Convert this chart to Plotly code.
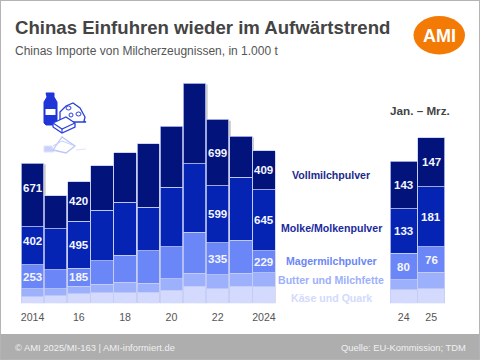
import plotly.graph_objects as go

W, H = 480, 360
years = [2014, 2015, 2016, 2017, 2018, 2019, 2020, 2021, 2022, 2023, 2024]
year_ticks = [2014, 2016, 2018, 2020, 2022, 2024]
year_labels = ["2014", "16", "18", "20", "22", "2024"]
kaese = [70, 77, 98, 112, 112, 116, 140, 182, 151, 182, 175]
butter = [81, 74, 84, 88, 112, 95, 116, 137, 151, 137, 147]
mager = [253, 200, 185, 249, 284, 344, 340, 428, 335, 347, 229]
molke = [402, 435, 495, 533, 554, 456, 628, 723, 599, 663, 645]
voll = [671, 344, 420, 467, 523, 667, 642, 846, 699, 428, 409]

q_cats = [24, 25]
q_labels = ["24", "25"]
q_kaese = [40, 44]
q_butter = [30, 49]
q_mager = [80, 76]
q_molke = [133, 181]
q_voll = [143, 147]

names = ["Käse und Quark", "Butter und Milchfette", "Magermilchpulver", "Molke/Molkenpulver", "Vollmilchpulver"]
colors = ["#d3dafd", "#9db0fb", "#6b86f6", "#0524b4", "#02137c"]
left = [kaese, butter, mager, molke, voll]
right = [q_kaese, q_butter, q_mager, q_molke, q_voll]
shown_left = {2: [2014, 2016, 2022, 2024], 3: [2014, 2016, 2022, 2024], 4: [2014, 2016, 2022, 2024]}

def px(x): return x / W
def py(y): return 1 - y / H

line = dict(color="#c4cdf6", width=0.8)
fig = go.Figure()
for i in range(5):
    fig.add_trace(go.Bar(x=years, y=left[i], name=names[i], marker=dict(color=colors[i], line=line), xaxis="x", yaxis="y", showlegend=False))
    fig.add_trace(go.Bar(x=q_cats, y=right[i], name=names[i], marker=dict(color=colors[i], line=line), xaxis="x2", yaxis="y2", showlegend=False))

ann = []
vfont = dict(family="Liberation Sans", size=11.5, color="#f4f6ff", weight="bold")
for i in shown_left:
    for yr in shown_left[i]:
        j = years.index(yr)
        base = sum(left[k][j] for k in range(i))
        shift = {(4, 2014): 7, (3, 2014): 5}.get((i, yr), 0)
        ann.append(dict(x=yr, y=base + left[i][j] / 2, xref="x", yref="y", yshift=shift, text=str(left[i][j]), showarrow=False, font=vfont))
for i in (2, 3, 4):
    for j, c in enumerate(q_cats):
        base = sum(right[k][j] for k in range(i))
        ann.append(dict(x=c, y=base + right[i][j] / 2, xref="x2", yref="y2", text=str(right[i][j]), showarrow=False, font=vfont))

def text(x, y, s, size, color, bold=False, anchor="left"):
    ann.append(dict(x=px(x), y=py(y), xref="paper", yref="paper", text=s, showarrow=False, xanchor=anchor, yanchor="middle",
                    font=dict(family="Liberation Sans", size=size, color=color, weight="bold" if bold else "normal")))

text(12.5, 28, "Chinas Einfuhren wieder im Aufwärtstrend", 18.6, "#444444", True)
text(12.5, 51, "Chinas Importe von Milcherzeugnissen, in 1.000 t", 12, "#555555")
text(439, 36, "AMI", 18, "#ffffff", True, "center")
text(12.5, 347.5, "© AMI 2025/MI-163 | AMI-informiert.de", 9.4, "#f0f0f0")
text(467.5, 347.5, "Quelle: EU-Kommission; TDM", 9.4, "#f0f0f0", False, "right")
text(419.5, 110, "Jan. – Mrz.", 11.7, "#444444", True, "center")
text(331, 175, "Vollmilchpulver", 10.6, "#1a2a8c", True, "center")
text(331, 227.5, "Molke/Molkenpulver", 10.6, "#1a2aa0", True, "center")
text(331, 261, "Magermilchpulver", 10.6, "#6b86f6", True, "center")
text(331, 280, "Butter und Milchfette", 10.6, "#9db0fb", True, "center")
text(331, 297.5, "Käse und Quark", 10.6, "#d3dafd", True, "center")

def P(pts, close=True):
    s = "M" + " L".join(f"{px(a):.5f},{py(b):.5f}" for a, b in pts)
    return s + (" Z" if close else "")

def poly(pts, fill="#ffffff", color="#2a40dc", width=1.3, close=True, opacity=1):
    return dict(type="path", xref="paper", yref="paper", path=P(pts, close), fillcolor=fill if close else None,
                line=dict(color=color, width=width), opacity=opacity)

def ell(x0, x1, y0, y1, color="#2a40dc"):
    return dict(type="circle", xref="paper", yref="paper", x0=px(x0), x1=px(x1), y0=py(y1), y1=py(y0),
                fillcolor="#ffffff", line=dict(color=color, width=1))

shapes = [
    dict(type="rect", xref="paper", yref="paper", x0=0, x1=1, y0=0, y1=py(334), fillcolor="#aeaeae", line_width=0, layer="below"),
    dict(type="rect", xref="paper", yref="paper", x0=0, x1=1, y0=0, y1=1, fillcolor="rgba(0,0,0,0)", line=dict(color="#b4b4b4", width=2), layer="above"),
    dict(type="circle", xref="paper", yref="paper", x0=px(413.5), x1=px(465), y0=py(54.5), y1=py(16), fillcolor="#f47a06", line_width=0, layer="below"),
    # bottle
    poly([(46, 93), (54, 93), (54, 97), (57, 102), (57, 124), (55, 125), (46, 125), (44, 123), (44, 102), (47, 97)], "#1f35d8", "#1f35d8", 1),
    dict(type="rect", xref="paper", yref="paper", x0=px(45.5), x1=px(55.5), y0=py(115), y1=py(109), fillcolor="#ffffff", line_width=0),
    # cheese
    poly([(60, 112), (66, 106), (73, 103), (80, 108), (85, 117), (84, 121), (86, 122), (74, 122), (60, 120)]),
    ell(66, 71, 106, 110), ell(76, 81, 112, 116), ell(69, 73, 113, 117),
    # butter
    poly([(53, 123), (66, 117), (75, 123), (75, 127), (62, 133), (53, 127)]),
    poly([(53, 123), (62, 129), (75, 123)], close=False, width=1.1),
    poly([(62, 129), (62, 133)], close=False, width=1.1),
    # faint mirrored icon
    poly([(44, 152), (44, 146), (52, 146), (54, 152)], "#c8d0fb", "#dfe4fd", 1),
    poly([(53, 150), (62, 137), (75, 146), (66, 153)], "#ffffff", "#bcc6f8", 1.3),
    poly([(53, 146), (62, 141), (75, 146)], close=False, color="#c6cff9", width=1),
    poly([(76, 150), (86, 149)], close=False, color="#dfe4fd", width=1),
]
# soft bar shadows on the right edge, derived from the stacked totals
for j, yr in enumerate(years):
    shapes.append(dict(type="rect", xref="x", yref="y", x0=yr, x1=yr + 0.57, y0=0, y1=sum(s[j] for s in left) - 12,
                       fillcolor="#cccccc", line_width=0, layer="below"))
for j, c in enumerate(q_cats):
    shapes.append(dict(type="rect", xref="x2", yref="y2", x0=c, x1=c + 0.55, y0=0, y1=sum(s[j] for s in right) - 4,
                       fillcolor="#c4c4c4", line_width=0, layer="below"))

axfont = dict(size=10.6, color="#555555")
fig.update_layout(
    width=W, height=H, margin=dict(l=0, r=0, t=0, b=0), paper_bgcolor="#ffffff", plot_bgcolor="rgba(0,0,0,0)",
    barmode="stack", bargap=0.03, font=dict(family="Liberation Sans"), annotations=ann, shapes=shapes,
    xaxis=dict(domain=[px(21), px(275.5)], range=[2013.5, 2024.5], tickmode="array", tickvals=year_ticks, ticktext=year_labels,
               showgrid=False, zeroline=False, showline=False, ticks="outside", ticklen=4, tickcolor="rgba(0,0,0,0)", tickfont=axfont, anchor="y"),
    yaxis=dict(domain=[py(303.3), py(70)], range=[0, 2456], visible=False, anchor="x"),
    xaxis2=dict(domain=[px(390), px(445)], range=[23.5, 25.5], tickmode="array", tickvals=q_cats, ticktext=q_labels,
                showgrid=False, zeroline=False, showline=False, ticks="outside", ticklen=4, tickcolor="rgba(0,0,0,0)", tickfont=axfont, anchor="y2"),
    yaxis2=dict(domain=[py(303.3), py(70)], range=[0, 700], visible=False, anchor="x2"),
)
fig.write_html("out.html", post_script="document.body.style.margin='0';", config=dict(displayModeBar=False))
